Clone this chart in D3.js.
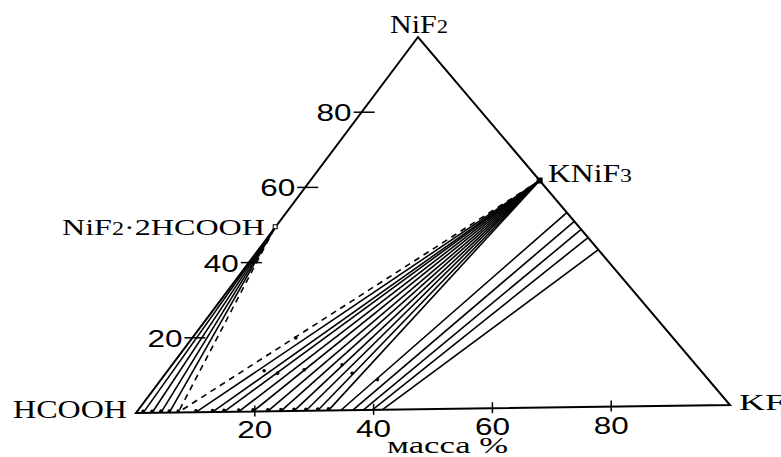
<!DOCTYPE html>
<html>
<head>
<meta charset="utf-8">
<script src="https://cdn.jsdelivr.net/npm/d3@7"></script>
<style>
  body { margin: 0; background: #fff; }
  svg { display: block; }
</style>
</head>
<body>
<svg id="chart" width="781" height="457"></svg>
<script>
// Ternary system HCOOH – KF – NiF2, mass %
const tickValues = [20, 40, 60, 80];

// Solid phases (KF %, NiF2 %)
const knif3 = { kf: 39, nif2: 61 };
const solvate = { kf: 0, nif2: 49 };

// Liquid compositions (KF %) on the HCOOH–KF side
const solvateTieKF = [1.2, 2.7, 4.2, 5.6];
const eutonicKF = 7.1;
const knif3TieKF = [10.1, 12.9, 14.8, 17.3, 19.7, 22.2, 24.4, 26.6, 28.6, 30.6, 32.4];

// Solid solutions on the KNiF3–KF side (NiF2 %) and their liquids (KF %)
const edgeSolidNiF2 = [52.3, 49.9, 47.7, 45.5, 42.2];
const edgeLiquidKF = [34.5, 36.5, 38.3, 39.8, 41.5];

// Wet residues (KF %, NiF2 %)
const residueKF = [16.4, 19.0, 23.1, 28.9, 31.7, 36.8, 17.6];
const residueNiF2 = [10.9, 10.2, 11.0, 12.2, 9.9, 8.1, 19.6];

// Triangle corners in screen space
const H = { x: 136, y: 413 }, K = { x: 730, y: 405 }, N = { x: 418, y: 37 };

// Each component contributes a linear offset along its own edge
const kfX = d3.scaleLinear().domain([0, 100]).range([0, K.x - H.x]);
const kfY = d3.scaleLinear().domain([0, 100]).range([0, K.y - H.y]);
const niX = d3.scaleLinear().domain([0, 100]).range([0, N.x - H.x]);
const niY = d3.scaleLinear().domain([0, 100]).range([0, N.y - H.y]);
const px = (kf, ni) => [H.x + kfX(kf) + niX(ni), H.y + kfY(kf) + niY(ni)];

const svg = d3.select("#chart");
const line = d3.line();
const black = "#000";

// Tie lines
const ties = svg.append("g").attr("fill", "none").attr("stroke", black).attr("stroke-width", 1.6);
solvateTieKF.forEach(k => ties.append("path").attr("d", line([px(solvate.kf, solvate.nif2), px(k, 0)])));
knif3TieKF.forEach(k => ties.append("path").attr("d", line([px(knif3.kf, knif3.nif2), px(k, 0)])));
edgeSolidNiF2.forEach((n, i) => ties.append("path").attr("d", line([px(100 - n, n), px(edgeLiquidKF[i], 0)])));

// Dashed boundaries of the three-phase region
const dashed = svg.append("g").attr("fill", "none").attr("stroke", black)
  .attr("stroke-width", 1.6).attr("stroke-dasharray", "6,5");
dashed.append("path").attr("d", line([px(solvate.kf, solvate.nif2), px(eutonicKF, 0)]));
dashed.append("path").attr("d", line([px(knif3.kf, knif3.nif2), px(eutonicKF, 0)]));

// Liquid points and wet residues
const dots = svg.append("g").attr("fill", black);
solvateTieKF.concat(knif3TieKF, [eutonicKF]).forEach(k => {
  const p = px(k, 0);
  dots.append("circle").attr("cx", p[0]).attr("cy", p[1] - 1.5).attr("r", 1.8);
});
residueKF.forEach((k, i) => {
  const p = px(k, residueNiF2[i]);
  dots.append("circle").attr("cx", p[0]).attr("cy", p[1]).attr("r", 1.8);
});

// Triangle frame
svg.append("path")
  .attr("d", line([px(0, 0), px(100, 0), px(0, 100)]) + "Z")
  .attr("fill", "none").attr("stroke", black).attr("stroke-width", 2);

// Phase markers
const pk = px(knif3.kf, knif3.nif2);
svg.append("rect").attr("x", pk[0] - 3).attr("y", pk[1] - 3).attr("width", 6).attr("height", 6).attr("fill", black);
const ps = px(solvate.kf, solvate.nif2);
svg.append("rect").attr("x", ps[0] - 1).attr("y", ps[1] - 4).attr("width", 4).attr("height", 4)
  .attr("fill", "#fff").attr("stroke", black).attr("stroke-width", 1);

// Bottom axis (KF) ticks
const numFont = "'Liberation Sans', Arial, sans-serif";
const serif = "'Liberation Serif', 'Times New Roman', serif";
const bottom = svg.append("g");
tickValues.forEach(v => {
  const p = px(v, 0);
  bottom.append("line").attr("x1", p[0]).attr("x2", p[0]).attr("y1", p[1] - 6).attr("y2", p[1] + 5)
    .attr("stroke", black).attr("stroke-width", 1.5);
  bottom.append("text").attr("x", p[0]).attr("y", p[1] + 27).attr("text-anchor", "middle")
    .attr("font-family", numFont).attr("font-size", 24)
    .attr("textLength", 35).attr("lengthAdjust", "spacingAndGlyphs").text(v);
});

// Left axis (NiF2) ticks
const left = svg.append("g");
tickValues.forEach(v => {
  const p = px(0, v);
  left.append("line").attr("x1", p[0] - 8).attr("x2", p[0] + 13).attr("y1", p[1]).attr("y2", p[1])
    .attr("stroke", black).attr("stroke-width", 1.5);
  left.append("text").attr("x", p[0] - 45).attr("y", p[1] + 9)
    .attr("font-family", numFont).attr("font-size", 24)
    .attr("textLength", 35).attr("lengthAdjust", "spacingAndGlyphs").text(v);
});

// Labels
function label(x, y, len, parts, size) {
  const t = svg.append("text").attr("x", x).attr("y", y)
    .attr("font-family", serif).attr("font-size", size)
    .attr("textLength", len).attr("lengthAdjust", "spacingAndGlyphs");
  parts.forEach(([s, small]) => t.append("tspan").attr("font-size", small ? size * 0.75 : size).text(s));
}
label(390, 33, 58, [["NiF"], ["2", true]], 26);
label(548, 182, 84, [["KNiF"], ["3", true]], 26);
label(62, 235, 203, [["NiF"], ["2", true], ["·2HCOOH"]], 24);
label(13, 418, 114, [["HCOOH"]], 25);
label(739, 410, 46, [["KF"]], 24);
label(387, 453, 121, [["масса %"]], 23);
</script>
</body>
</html>
